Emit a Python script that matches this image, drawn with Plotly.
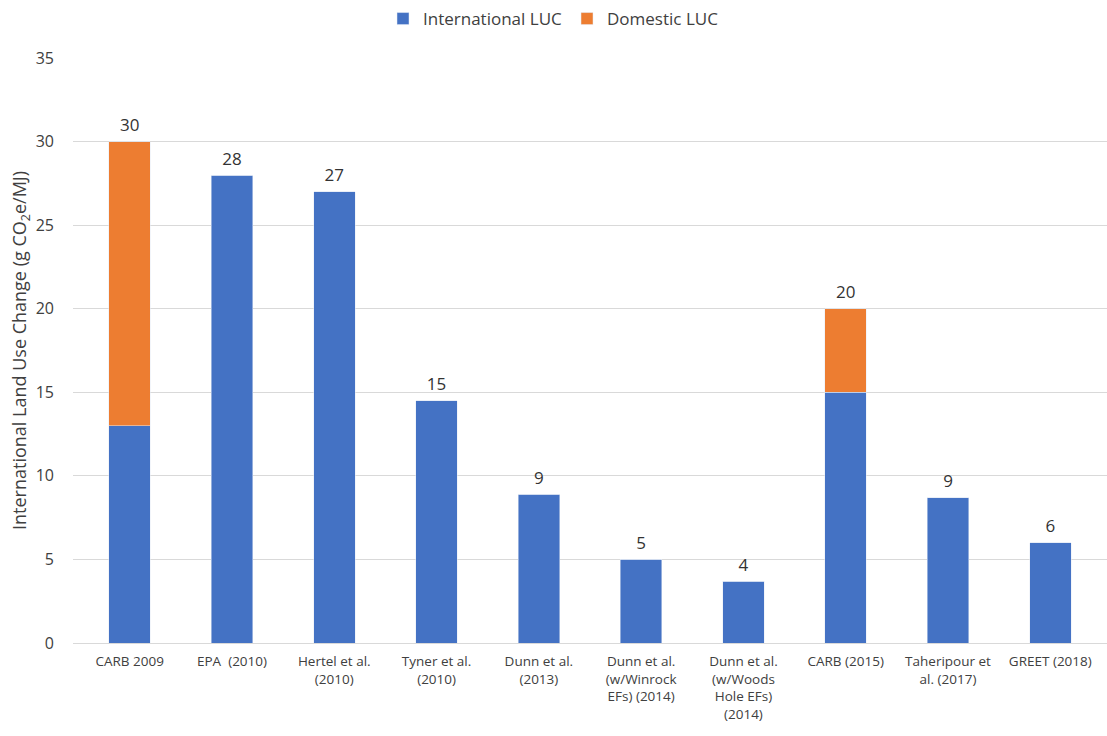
import plotly.graph_objects as go
from decimal import Decimal, ROUND_HALF_UP

studies = [
    "CARB 2009", "EPA  (2010)", "Hertel et al.<br>(2010)", "Tyner et al.<br>(2010)",
    "Dunn et al.<br>(2013)", "Dunn et al.<br>(w/Winrock<br>EFs) (2014)",
    "Dunn et al.<br>(w/Woods<br>Hole EFs)<br>(2014)", "CARB (2015)",
    "Taheripour et<br>al. (2017)", "GREET (2018)",
]
international_luc = [13, 28, 27, 14.5, 8.9, 5, 3.7, 15, 8.7, 6]
domestic_luc = [17, 0, 0, 0, 0, 0, 0, 5, 0, 0]
totals = [a + b for a, b in zip(international_luc, domestic_luc)]


def whole(v):
    return str(Decimal(str(v)).quantize(Decimal("1"), rounding=ROUND_HALF_UP))


FONT = "Open Sans"
BLUE = "#4472C4"
ORANGE = "#ED7D31"

fig = go.Figure()
fig.add_trace(go.Bar(x=studies, y=international_luc, name="International LUC",
                     marker_color=BLUE))
fig.add_trace(go.Bar(x=studies, y=domestic_luc, name="Domestic LUC",
                     marker_color=ORANGE))
# total labels above each stack
fig.add_trace(go.Scatter(x=studies, y=totals, mode="markers+text",
                         marker=dict(size=8, opacity=0),
                         text=[whole(t) for t in totals],
                         textposition="top center",
                         textfont=dict(family=FONT, size=17, color="#333333"),
                         showlegend=False, hoverinfo="skip"))

fig.update_layout(
    barmode="stack",
    bargap=0.594,
    width=1107, height=736,
    margin=dict(l=73, r=0, t=58, b=93),
    plot_bgcolor="white", paper_bgcolor="white",
    font=dict(family=FONT, color="#595959"),
    legend=dict(orientation="h", x=0.5, xanchor="center", xref="container",
                yref="container", y=1 - 19 / 736, yanchor="middle",
                font=dict(family=FONT, size=17, color="#404040"),
                traceorder="normal", itemwidth=30),
    xaxis=dict(tickfont=dict(family=FONT, size=13.5, color="#404040"),
               showline=True, linecolor="#d9d9d9", linewidth=1,
               ticks="", tickangle=0, ticklabelstandoff=6, automargin=False),
    yaxis=dict(range=[0, 35], dtick=5, showgrid=True, gridcolor="#d9d9d9",
               zeroline=False, ticks="", ticklabelstandoff=18, automargin=False,
               tickfont=dict(family=FONT, size=16, color="#404040"),
               title=dict(text="International Land Use Change (g CO<sub>2</sub>e/MJ)",
                          font=dict(family=FONT, size=18, color="#404040"), standoff=4)),
)

fig.write_html("out.html")
